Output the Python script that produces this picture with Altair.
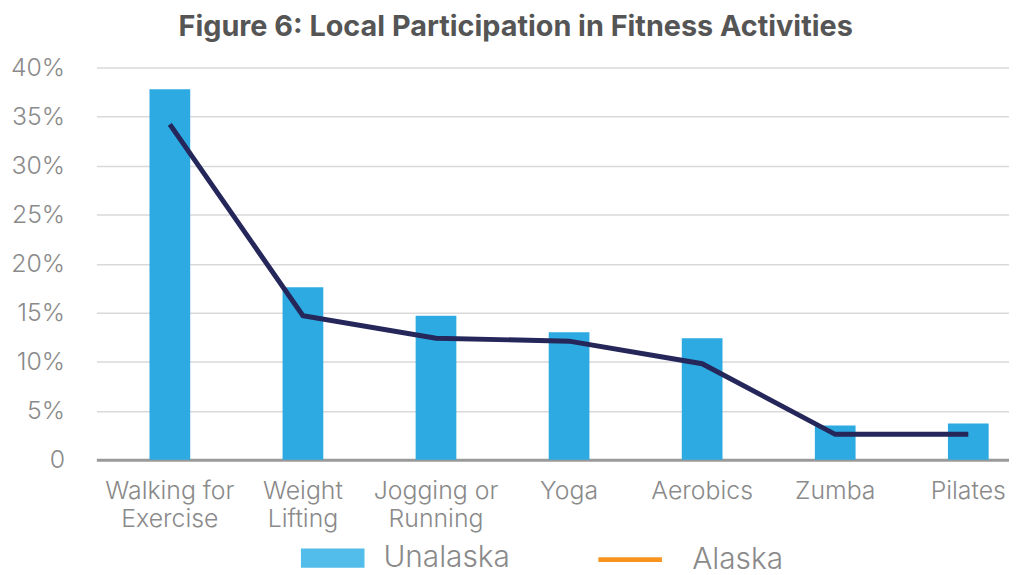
import altair as alt
import pandas as pd

categories = ["Walking for Exercise", "Weight Lifting", "Jogging or Running",
              "Yoga", "Aerobics", "Zumba", "Pilates"]
unalaska = [37.8, 17.6, 14.7, 13.0, 12.4, 3.5, 3.7]
alaska = [34.2, 14.7, 12.4, 12.1, 9.8, 2.6, 2.6]
y_ticks = [0, 5, 10, 15, 20, 25, 30, 35, 40]

df = pd.DataFrame({"category": categories, "Unalaska": unalaska, "Alaska": alaska})

FONT = "Inter"
LABEL_COLOR = "#8a8a8a"

label_expr = ("{'Walking for Exercise': ['Walking for', 'Exercise'], "
              "'Weight Lifting': ['Weight', 'Lifting'], "
              "'Jogging or Running': ['Jogging or', 'Running']}[datum.label] || datum.label")

x_scale = alt.Scale(paddingInner=0.694, paddingOuter=0.276, align=0.723)
x_main = alt.X("category:N", sort=categories, title=None, scale=x_scale,
               axis=alt.Axis(labelAngle=0, labelExpr=label_expr))
y_main = alt.Y("Unalaska:Q", scale=alt.Scale(domain=[0, 40], nice=False), title=None,
               axis=alt.Axis(values=y_ticks,
                             labelExpr="datum.value == 0 ? '0' : datum.value + '%'"))

base = alt.Chart(df)

bars = base.mark_bar(color="#2DAAE1").encode(x=x_main, y=y_main)

legend_bars = base.transform_calculate(series="'Unalaska'").mark_bar(opacity=0).encode(
    x=alt.X("category:N", sort=categories, title=None),
    y=alt.Y("Unalaska:Q", title=None),
    fill=alt.Fill("series:N",
                  scale=alt.Scale(domain=["Unalaska"], range=["#52BCEA"]),
                  legend=alt.Legend(title=None, orient="none", legendX=205, legendY=461,
                                    symbolType="M-1,-0.3H1V0.3H-1Z", symbolSize=4096,
                                    symbolOpacity=1, labelFontSize=30,
                                    labelFont=FONT, labelFontWeight=300,
                                    labelColor=LABEL_COLOR, labelOffset=18)),
)

line = base.mark_line(color="#252659", strokeWidth=5).encode(
    x=alt.X("category:N", sort=categories, title=None),
    y=alt.Y("Alaska:Q", title=None),
)

legend_line = base.transform_calculate(series2="'Alaska'").mark_line(strokeOpacity=0).encode(
    x=alt.X("category:N", sort=categories, title=None),
    y=alt.Y("Alaska:Q", title=None),
    stroke=alt.Stroke("series2:N",
                      scale=alt.Scale(domain=["Alaska"], range=["#F7941D"]),
                      legend=alt.Legend(title=None, orient="none", legendX=503, legendY=461,
                                        symbolType="M-1,0H1", symbolSize=4096,
                                        symbolStrokeWidth=5, symbolOpacity=1,
                                        labelFontSize=30, labelFont=FONT,
                                        labelFontWeight=300, labelColor=LABEL_COLOR,
                                        labelOffset=28)),
)

chart = alt.layer(bars, legend_bars, legend_line, line).resolve_scale(
    fill="independent", stroke="independent"
).properties(
    width=919, height=395,
    padding={"left": 2, "top": 3, "right": 0, "bottom": 0},
    title=alt.Title("Figure 6: Local Participation in Fitness Activities",
                    fontSize=29, font=FONT, fontWeight="bold", color="#555555",
                    anchor="middle", frame="bounds", offset=14, dx=6),
).configure_view(stroke=None).configure_axisX(
    labelFontSize=25, labelColor=LABEL_COLOR, labelFont=FONT, labelFontWeight=300,
    labelPadding=19, labelLineHeight=28, labelBaseline="top",
    ticks=False, domainColor="#9a9a9a", domainWidth=3, grid=False,
).configure_axisY(
    labelFontSize=25, labelColor=LABEL_COLOR, labelFont=FONT, labelFontWeight=300,
    labelPadding=32, ticks=False, domain=False, gridColor="#d9d9d9", gridWidth=1.5,
)

chart.save("out.html", embed_options={"renderer": "svg", "actions": False})
